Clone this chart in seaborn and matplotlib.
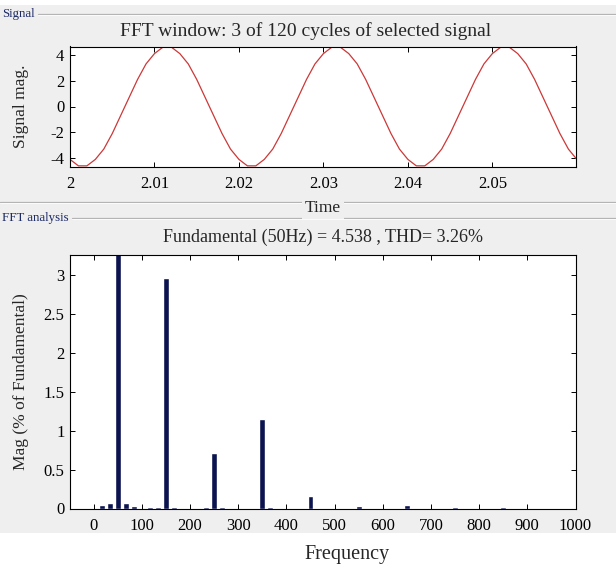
import matplotlib
matplotlib.use("Agg")
import matplotlib.pyplot as plt
from matplotlib.patches import Rectangle
from matplotlib.lines import Line2D
import seaborn as sns
import pandas as pd

# ---------------- data ----------------
time_s = [round(2 + k * 0.001, 3) for k in range(61)]
signal_mag = [
    -4.1, -4.6, -4.6, -4.1, -3.3, -2.1, -0.7, 0.7, 2.1, 3.3,
    4.1, 4.6, 4.6, 4.1, 3.3, 2.1, 0.7, -0.7, -2.1, -3.3,
    -4.1, -4.6, -4.6, -4.1, -3.3, -2.1, -0.7, 0.7, 2.1, 3.3,
    4.1, 4.6, 4.6, 4.1, 3.3, 2.1, 0.7, -0.7, -2.1, -3.3,
    -4.1, -4.6, -4.6, -4.1, -3.3, -2.1, -0.7, 0.7, 2.1, 3.3,
    4.1, 4.6, 4.6, 4.1, 3.3, 2.1, 0.7, -0.7, -2.1, -3.3,
    -4.1,
]
time_ticks = [2.0, 2.01, 2.02, 2.03, 2.04, 2.05]
time_tick_labels = ["2", "2.01", "2.02", "2.03", "2.04", "2.05"]
sig_ticks = [-4, -2, 0, 2, 4]

freq_hz = [16.67, 33.33, 50.0, 66.67, 83.33, 116.67, 133.33, 150.0, 166.67,
           233.33, 250.0, 266.67, 350.0, 366.67, 450.0, 550.0, 650.0, 750.0, 850.0]
mag_pct = [0.04, 0.075, 100.0, 0.065, 0.03, 0.02, 0.025, 2.97, 0.025,
           0.02, 0.72, 0.025, 1.15, 0.025, 0.165, 0.035, 0.045, 0.02, 0.015]
freq_ticks = [0, 100, 200, 300, 400, 500, 600, 700, 800, 900, 1000]
mag_ticks = [0, 0.5, 1, 1.5, 2, 2.5, 3]
mag_tick_labels = ["0", "0.5", "1", "1.5", "2", "2.5", "3"]

# ---------------- style ----------------
sns.set_style("ticks")
plt.rcParams["font.family"] = ["Liberation Serif", "DejaVu Serif"]
plt.rcParams["axes.edgecolor"] = "black"
plt.rcParams["axes.linewidth"] = 0.8

W, H = 616, 567
fig = plt.figure(figsize=(W / 100, H / 100), dpi=100)
fig.patch.set_facecolor("white")

def fy(py):
    return 1 - py / H

def fx(px):
    return px / W

# grey panel background
fig.patches.append(Rectangle((0, fy(533)), 1, fy(5) - fy(533), transform=fig.transFigure,
                             facecolor="#efefef", edgecolor="none", zorder=-10))
# group box lines
for (x0, x1, y) in [(38, 616, 13.5), (0, 616, 202), (72, 616, 217.5)]:
    fig.lines.append(Line2D([fx(x0), fx(x1)], [fy(y), fy(y)], transform=fig.transFigure,
                            color="#b4b4b4", lw=0.9, zorder=-5))
    fig.lines.append(Line2D([fx(x0), fx(x1)], [fy(y + 1), fy(y + 1)], transform=fig.transFigure,
                            color="#ffffff", lw=0.6, zorder=-5))

fig.text(fx(2), fy(14), "Signal", fontsize=9.3, color="#1c2a66", va="center", ha="left")
fig.text(fx(2), fy(218), "FFT analysis", fontsize=9.3, color="#1c2a66", va="center", ha="left")

L, R = 70, 576
ax1 = fig.add_axes([fx(L), fy(166.5), (R - L) / W, (166.5 - 46.5) / H])
ax2 = fig.add_axes([fx(L), fy(508.5), (R - L) / W, (508.5 - 255) / H])

# ---------------- top: signal ----------------
df_sig = pd.DataFrame({"Time": time_s, "Signal": signal_mag})
sns.lineplot(data=df_sig, x="Time", y="Signal", ax=ax1, color="#cc3838", lw=0.9)
ax1.set_xlim(2.0, 2.0599)
ax1.set_ylim(-4.65, 4.65)
ax1.set_xticks(time_ticks)
ax1.set_xticklabels(time_tick_labels)
ax1.set_yticks(sig_ticks)
ax1.set_yticklabels([str(v) for v in sig_ticks])
ax1.set_facecolor("white")
ax1.set_ylabel("Signal mag.", fontsize=12.5)
ax1.yaxis.set_label_coords((29 - L) / (R - L), 0.5)
ax1.set_xlabel("Time", fontsize=12.5, va="center",
               bbox=dict(facecolor="#efefef", edgecolor="none", pad=2))
ax1.xaxis.set_label_coords(0.5, (166.5 - 208) / 120)
ax1.text((306 - L) / (R - L), (166.5 - 31) / 120, "FFT window: 3 of 120 cycles of selected signal",
         transform=ax1.transAxes, ha="center", va="center", fontsize=14)

# ---------------- bottom: FFT ----------------
df_fft = pd.DataFrame({"Frequency": freq_hz, "Mag": mag_pct})
sns.barplot(data=df_fft, x="Frequency", y="Mag", ax=ax2, native_scale=True, orient="x",
            color="#0c1450", saturation=1, width=0.72, errorbar=None)
ax2.set_xlim(-49, 1001)
ax2.set_ylim(0, 3.26)
ax2.set_xticks(freq_ticks)
ax2.set_xticklabels([str(v) for v in freq_ticks])
ax2.set_yticks(mag_ticks)
ax2.set_yticklabels(mag_tick_labels)
ax2.set_facecolor("white")
ax2.set_ylabel("Mag (% of Fundamental)", fontsize=12.5)
ax2.yaxis.set_label_coords((29 - L) / (R - L), 0.5)
ax2.set_xlabel("Frequency", fontsize=14.5, va="center")
ax2.xaxis.set_label_coords((347 - L) / (R - L), (508.5 - 554) / 253.5)
ax2.text(0.5, (508.5 - 237) / 253.5, "Fundamental (50Hz) = 4.538 , THD= 3.26%",
         transform=ax2.transAxes, ha="center", va="center", fontsize=13)

for ax in (ax1, ax2):
    for s in ax.spines.values():
        s.set_visible(True)
        s.set_color("black")
        s.set_linewidth(0.8)
    ax.tick_params(direction="in", length=3.6, width=0.7, top=True, right=True,
                   labelsize=12, colors="black")
    ax.tick_params(axis="x", pad=6.5)
    ax.tick_params(axis="y", pad=4)
    ax.grid(False)

fig.savefig("out.png", dpi=100, facecolor=fig.get_facecolor())
